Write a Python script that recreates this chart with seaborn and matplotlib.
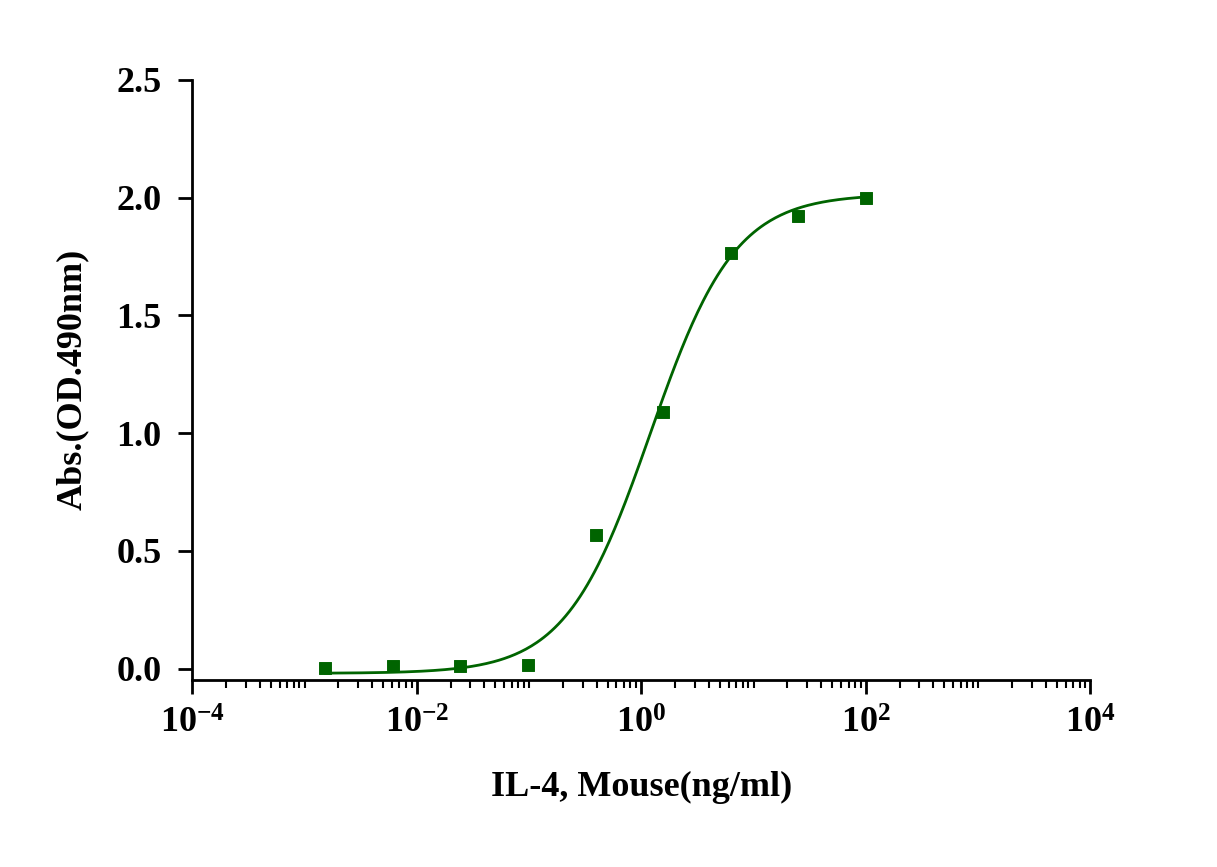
import numpy as np
import pandas as pd
import matplotlib
matplotlib.use("Agg")
import matplotlib.pyplot as plt
import seaborn as sns
from matplotlib.ticker import LogLocator, FixedLocator, FuncFormatter, NullFormatter

conc = [0.00153, 0.0061, 0.0244, 0.0977, 0.3906, 1.5625, 6.25, 25, 100]
absorb = [0.004, 0.01, 0.013, 0.017, 0.566, 1.09, 1.766, 1.923, 2.0]
# 4PL fit parameters (bottom, top, EC50, hill)
fit_params = [-0.02, 2.015, 1.2, 1.15]

plt.rcParams["font.family"] = "Liberation Serif"
plt.rcParams["font.weight"] = "bold"
plt.rcParams["mathtext.fontset"] = "custom"
plt.rcParams["mathtext.rm"] = "Liberation Serif:bold"
plt.rcParams["mathtext.it"] = "Liberation Serif:bold"
plt.rcParams["mathtext.bf"] = "Liberation Serif:bold"

fig = plt.figure(figsize=(12.17, 8.67), dpi=100)
ax = fig.add_axes([0.158, 0.216, 0.738, 0.692])
green = "#006400"

b, t, ec, h = fit_params
xs = np.logspace(np.log10(conc[0]), np.log10(conc[-1]), 300)
ys = b + (t - b) / (1 + (ec / xs) ** h)
sns.lineplot(x=xs, y=ys, ax=ax, color=green, lw=2)
sns.scatterplot(x=conc, y=absorb, ax=ax, marker="s", s=70, color=green, edgecolor=green, zorder=3)

ax.set_xscale("log")
ax.set_xlim(1e-4, 1e4)
ax.set_ylim(-0.047, 2.5)
ax.set_yticks([0, 0.5, 1.0, 1.5, 2.0, 2.5])
ax.yaxis.set_major_formatter(FuncFormatter(lambda v, p: f"{v:.1f}"))
ax.xaxis.set_major_locator(FixedLocator([1e-4, 1e-2, 1e0, 1e2, 1e4]))
ax.xaxis.set_major_formatter(FuncFormatter(lambda v, p: r"$10^{%d}$" % round(np.log10(v))))
ax.xaxis.set_minor_locator(LogLocator(base=10, subs=np.arange(1, 10), numticks=50))
ax.xaxis.set_minor_formatter(NullFormatter())
for s in ["top", "right"]:
    ax.spines[s].set_visible(False)
for s in ["left", "bottom"]:
    ax.spines[s].set_linewidth(2)
ax.tick_params(axis="both", which="major", width=2, length=10, labelsize=26, direction="out")
ax.tick_params(axis="y", pad=12)
ax.tick_params(axis="x", pad=10)
ax.tick_params(axis="x", which="minor", width=1.5, length=6)
ax.set_xlabel("IL-4, Mouse(ng/ml)", fontsize=26, fontweight="bold", labelpad=22)
ax.set_ylabel("Abs.(OD.490nm)", fontsize=26, fontweight="bold", labelpad=20)
fig.savefig("out.png", dpi=100)
